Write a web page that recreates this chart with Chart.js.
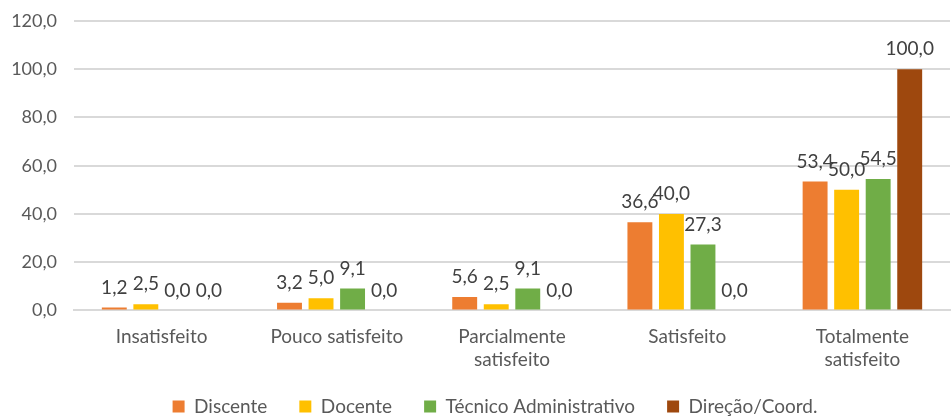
<!DOCTYPE html>
<html>
<head>
<meta charset="utf-8">
<script src="https://cdn.jsdelivr.net/npm/chart.js@4"></script>
<style>
    html, body { margin: 0; padding: 0; background: #fff; }
    #wrap { width: 952px; height: 416px; position: relative; }
</style>
</head>
<body>
<div id="wrap"><canvas id="satisfacaoChart"></canvas></div>
<script>
const categories = [
    "Insatisfeito",
    "Pouco satisfeito",
    ["Parcialmente", "satisfeito"],
    "Satisfeito",
    ["Totalmente", "satisfeito"],
];

const discente = [1.2, 3.2, 5.6, 36.6, 53.4];
const docente = [2.5, 5.0, 2.5, 40.0, 50.0];
const tecnico = [0.0, 9.1, 9.1, 27.3, 54.5];
const direcao = [0.0, 0.0, 0.0, 0.0, 100.0];

const yTicks = [0, 20, 40, 60, 80, 100, 120];

const FONT = "Lato, 'Open Sans', sans-serif";

function fmt(v) {
    return Number(v).toFixed(1).replace(".", ",");
}

// draws the value above each bar
const valueLabels = {
    id: "valueLabels",
    afterDatasetsDraw(chart) {
        const ctx = chart.ctx;
        ctx.save();
        ctx.font = "19px " + FONT;
        ctx.fillStyle = "#404040";
        ctx.textAlign = "center";
        ctx.textBaseline = "middle";
        chart.data.datasets.forEach((ds, i) => {
            const meta = chart.getDatasetMeta(i);
            meta.data.forEach((bar, j) => {
                ctx.fillText(fmt(ds.data[j]), bar.x, bar.y - 20);
            });
        });
        ctx.restore();
    },
};

// wide spacing between legend items, but a shorter legend box
const legendFit = {
    id: "legendFit",
    afterInit(chart) {
        const legend = chart.legend;
        const origFit = legend.fit;
        const origDraw = legend.draw;
        legend.fit = function () {
            origFit.call(this);
            this.height -= 23;
        };
        legend.draw = function () {
            const { top, left, right } = this;
            this.top = top - 13;
            this.left = left + 20;
            this.right = right + 20;
            origDraw.call(this);
            this.top = top;
            this.left = left;
            this.right = right;
        };
    },
};

const canvas = document.getElementById("satisfacaoChart");

new Chart(canvas.getContext("2d"), {
    type: "bar",
    data: {
        labels: categories,
        datasets: [
            { label: "Discente", data: discente, backgroundColor: "#ed7d31" },
            { label: "Docente", data: docente, backgroundColor: "#ffc000" },
            { label: "Técnico Administrativo", data: tecnico, backgroundColor: "#70ad47" },
            { label: "Direção/Coord.", data: direcao, backgroundColor: "#9e480e" },
        ],
    },
    options: {
        responsive: true,
        maintainAspectRatio: false,
        animation: false,
        layout: {
            padding: { top: 0, right: 2, left: 0, bottom: 0 },
        },
        datasets: {
            bar: {
                categoryPercentage: 0.72,
                barPercentage: 0.79,
            },
        },
        scales: {
            x: {
                grid: { display: false },
                border: { color: "#d9d9d9", width: 2 },
                ticks: {
                    color: "#595959",
                    font: { family: FONT, size: 19, lineHeight: 1.2 },
                    padding: 7,
                },
            },
            y: {
                min: 0,
                max: 120,
                afterBuildTicks(axis) {
                    axis.ticks = yTicks.map((v) => ({ value: v }));
                },
                afterFit(axis) {
                    axis.width = 74;
                    axis.paddingTop = 21;
                    axis.paddingBottom = 0;
                },
                grid: { color: "#d9d9d9", lineWidth: 2, drawTicks: false },
                border: { display: false },
                ticks: {
                    color: "#595959",
                    font: { family: FONT, size: 18 },
                    padding: 17,
                    callback: (v) => fmt(v),
                },
            },
        },
        plugins: {
            legend: {
                position: "bottom",
                labels: {
                    color: "#595959",
                    font: { family: FONT, size: 19 },
                    boxWidth: 12,
                    boxHeight: 12,
                    padding: 32,
                },
            },
            tooltip: { enabled: false },
        },
    },
    plugins: [valueLabels, legendFit],
});
</script>
</body>
</html>
